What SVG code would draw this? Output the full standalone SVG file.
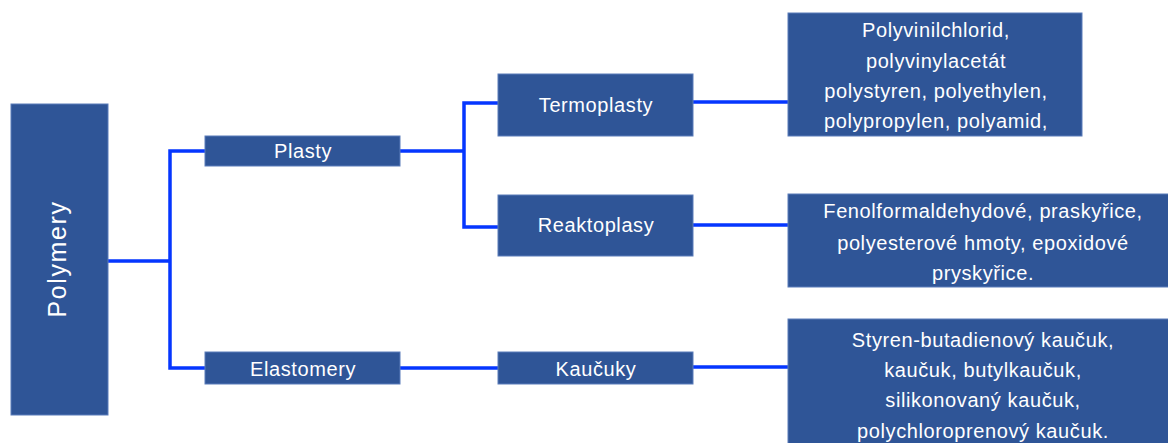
<svg xmlns="http://www.w3.org/2000/svg" width="1168" height="443" viewBox="0 0 1168 443">
<style>
.box{fill:#2F5597;stroke:#5B7DBA;stroke-width:1}
.t{font-family:"Liberation Sans",Arial,sans-serif;font-size:20px;fill:#FFFFFF;text-anchor:middle;letter-spacing:0.6px}
.big{font-size:25px;letter-spacing:1.6px}
.c{fill:none;stroke:#0536FF;stroke-width:3.5;stroke-linecap:square}
</style>
<rect width="1168" height="443" fill="#FFFFFF"/>
<g id="connectors">
<path class="c" d="M108,261 H170 M170,151 V368 M170,151 H205 M170,368 H205"/>
<path class="c" d="M400,151 H464 M464,103 V227 M464,103 H498 M464,227 H498"/>
<path class="c" d="M400,368 H498"/>
<path class="c" d="M693,102 H788"/>
<path class="c" d="M693,225 H788"/>
<path class="c" d="M693,367 H788"/>
</g>
<g id="polymery">
<rect class="box" x="11" y="104" width="97" height="311"/>
<text class="t big" transform="translate(66,259) rotate(-90)">Polymery</text>
</g>
<g id="plasty">
<rect class="box" x="205" y="136" width="195" height="30"/>
<text class="t" x="303" y="158">Plasty</text>
</g>
<g id="elastomery">
<rect class="box" x="205" y="352" width="195" height="32"/>
<text class="t" x="303" y="376">Elastomery</text>
</g>
<g id="termoplasty">
<rect class="box" x="498" y="74" width="195" height="62"/>
<text class="t" x="596" y="112">Termoplasty</text>
</g>
<g id="reaktoplasy">
<rect class="box" x="498" y="195" width="195" height="61"/>
<text class="t" x="596" y="232">Reaktoplasy</text>
</g>
<g id="kaucuky">
<rect class="box" x="498" y="352" width="195" height="32"/>
<text class="t" x="596" y="376">Kaučuky</text>
</g>
<g id="termoplasty-list">
<rect class="box" x="788" y="13" width="294" height="123"/>
<text class="t" x="936" y="37">Polyvinilchlorid,</text>
<text class="t" x="936" y="68">polyvinylacetát</text>
<text class="t" x="936" y="98">polystyren, polyethylen,</text>
<text class="t" x="936" y="128">polypropylen, polyamid,</text>
</g>
<g id="reaktoplasy-list">
<rect class="box" x="788" y="194" width="392" height="93"/>
<text class="t" x="983" y="218">Fenolformaldehydové, praskyřice,</text>
<text class="t" x="983" y="250">polyesterové hmoty, epoxidové</text>
<text class="t" x="983" y="280">pryskyřice.</text>
</g>
<g id="kaucuky-list">
<rect class="box" x="788" y="319" width="392" height="140"/>
<text class="t" x="983" y="347">Styren-butadienový kaučuk,</text>
<text class="t" x="983" y="377">kaučuk, butylkaučuk,</text>
<text class="t" x="983" y="407">silikonovaný kaučuk,</text>
<text class="t" x="983" y="438">polychloroprenový kaučuk.</text>
</g>
</svg>
